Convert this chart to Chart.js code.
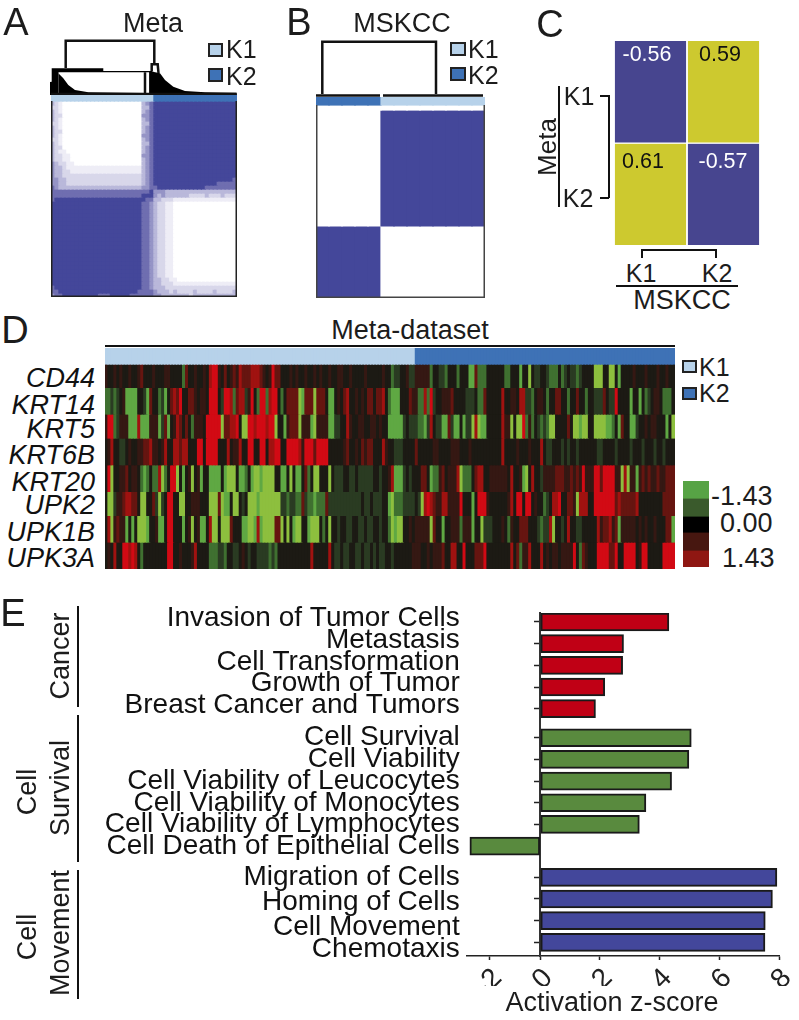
<!DOCTYPE html>
<html>
<head>
<meta charset="utf-8">
<title>Consensus clusters</title>
<script src="https://cdn.jsdelivr.net/npm/chart.js@4/dist/chart.umd.min.js"></script>
<style>
  body { margin: 0; background: #fff; }
  #page { position: relative; width: 799px; height: 1020px; overflow: hidden; font-family: "Liberation Sans", Arial, sans-serif; color: #1c1c1c; }
  #page canvas { position: absolute; }
  .t { position: absolute; white-space: nowrap; line-height: 1; }
  .l { position: absolute; background: #111; }
  .s { position: absolute; box-sizing: border-box; border: 2px solid #222; }
</style>
</head>
<body>
<div id="page"></div>
<script>
// Panel A: consensus matrix, one digit per cell (0 = never together, 6 = always)
const metaMatrix = [
  "32100000000000000000000345666666666666666666666",
  "22100000000000000000000335666666666666666666666",
  "32100000000000000000000345666666666666666666666",
  "32200000000000000000000445666666666666666666666",
  "32100000000000000000000345666666666666666666666",
  "22100000000000000000000335666666666666666666666",
  "32100000000000000000000345666666666666666666666",
  "32200000000000000000000345666666666666666666666",
  "32100000000000000000000445666666666666666666666",
  "22100000000000000000000345666666666666666666666",
  "32100000000000000000000335666666666666666666666",
  "32200000000000000000000345666666666666666666666",
  "32110000000000000000000345666666666666666666666",
  "32211000000000000000000445666666666666666666666",
  "32211000000000000000000345666666666666666666666",
  "43221100000000000000000345666666666666666666666",
  "43321111111111111111111345666666666666666666666",
  "43322111111111111111111345666666666666666666666",
  "43322222222222222222222345666666666666666666666",
  "44332222222222222222222345666666666666666666665",
  "44332222222222222222222345666666666666666655555",
  "54333333333333333333333445566666666666655555555",
  "55555555555555555555555556444333333333333333333",
  "55555555555555555555555666434333333222232223222",
  "56666666666666666666666655332221111111111111111",
  "66666666666666666666666554322110000000000000000",
  "66666666666666666666666554322110000000000000000",
  "66666666666666666666666554322110000000000000000",
  "66666666666666666666666554322110000000000000000",
  "66666666666666666666666554322110000000000000000",
  "66666666666666666666666554322110000000000000000",
  "66666666666666666666666554322110000000000000000",
  "66666666666666666666666554322110000000000000000",
  "66666666666666666666666554322110000000000000000",
  "66666666666666666666666554322110000000000000000",
  "66666666666666666666666554322110000000000000000",
  "66666666666666666666666554322110000000000000000",
  "66666666666666666666666554322110000000000000000",
  "66666666666666666666666554322110000000000000000",
  "66666666666666666666666554322110000000000000000",
  "66666666666666666666666554322110000000000000000",
  "66666666666666666666666554322110000000000000000",
  "66666666666666666666666554322110000000000000000",
  "66666666666666666666666554322110000000000000000",
  "66666666666666666666666554332211000000000000000",
  "66666666666666666666666554332221111111111111111",
  "56666666666666666666666554333222222222222222222",
  "55666666666666666666665555433323222232222322223",
  "45566666666655566666555555443333333233333333333"
];

// Panel A dendrogram as [leaf position, merge height]
const metaMass = [[5,0],[5,13],[6.7,13.3],[6.7,26.7],[58.3,26.7],[58.3,24],[106.7,24],[109,23],[115,21.7],[120,15],[128.3,8.3],[140,4],[160,2.7],[191.7,2.3]];
const metaHollow = [[13.3,22.7],[104.3,22.7]];
const metaLower = [[13.3,21.7],[18.3,16.7],[23.3,10],[30,5],[43.3,2.7],[100,2]];
const metaLinks = [[20.7,27],[20.7,54.3],[109.3,54.3],[109.3,30.7],null,[106.7,24],[106.7,30.7],[112.7,30.7],[113.5,22],null,[100,22.7],[100,1],null,[6,1],[191.7,1]];

// Panel B
const mskccMatrix = ["0000066666666", "6666600000000"];
const mskccLinks = [[12.3,3],[12.3,54.3],[126,54.3],[126,3],null,[6,1.5],[70,1.5],null,[73,1.5],[173,1.5]];

// Panel C
const corrValues = [[-0.56, 0.59], [0.61, -0.57]];
const corrLabels = ["K1", "K2"];

// Panel D: a = most negative (green) ... e = 0 ... i = most positive (red)
const geneNames = ["CD44", "KRT14", "KRT5", "KRT6B", "KRT20", "UPK2", "UPK1B", "UPK3A"];
const geneLevels = [
  "feefefeefeef" + "geeefeeeffee" + "eecgeefeefeh" + "iifegefgfhgg" + "ghhhgfefigge" + "eefefeefeefe" + "feefeeffeefe" + "eeefeeeeefee" + "cddeefddffff" + "fceeddceeece" + "eebbgccceeee" + "eecceeebeeae" + "ddeedcccecde" + "ddcdeeeeaaae" + "eaaebeeeefee" + "efeeefeefee",
  "ccdcdefbbbbe" + "edbgeecdbegh" + "gieeggfeffei" + "iiediihcghhd" + "fieciichiiec" + "eggggabgggag" + "ggebbefeghee" + "fefeggegghec" + "bbbeeegffcch" + "cideefffgeee" + "edddeccgeeee" + "eheeffehhddc" + "effeceeggeec" + "eegeeceedddg" + "eddieeeebeeb" + "ecdeffeccce",
  "fiicdfffbbbh" + "bbbfffbdgbef" + "hgegecfffeii" + "iiiagghhieaa" + "iihiiihiiaee" + "bfgggafffbaf" + "fffbbddeehfe" + "effeeffefeeb" + "bbbbdedddccb" + "dheddbbgdbbe" + "bddahabbeeee" + "ehffaeaaicfc" + "edcdcaaeeeeg" + "eaabaaeeaaaa" + "bbcebgeebbde" + "efeffeeebea",
  "efheeddefeef" + "fgghffefheeh" + "hghheeeiieii" + "iieeeheffhee" + "iieeiiehhiie" + "eiiiihfiiigi" + "iiieeeeefgee" + "fegfggeeehfe" + "edddeeeegeee" + "eeffeeeefffe" + "eefeeeeeeeee" + "eheeeefeeefe" + "eeheddeeeded" + "eedeeeeeedde" + "eeedeeeedeee" + "deeedeedeee",
  "eiaeeffgeffe" + "cbcecchaceii" + "aebefaefbeeb" + "bbbebaaaebbc" + "ebaabaaaaeeb" + "beaebbegceaa" + "eeeaedddeedd" + "edddddeedeef" + "hbbbdedeeegg" + "ebccfgefffha" + "ccceghheefff" + "fffeheefbaeh" + "eedffffgggff" + "gfgfifffiigi" + "iiiffahaffbf" + "gfgffgffggg",
  "eaadffghhgge" + "aaeegdadeiie" + "eaaeefffeeea" + "aagabbeaaede" + "aaabaaaaaaad" + "dcddccgdccbc" + "ccgddddddddd" + "ddeddedddeeb" + "acccddddedah" + "ihgffhhffffi" + "eeebeiiifeee" + "eeefheiieiie" + "feecdehhieeg" + "gfahhheeiiii" + "iiighggggghe" + "eeeeeeegggg",
  "ehafgffbebea" + "aabeefbbeiie" + "eebefaefbbeh" + "aaeaaageeebb" + "aabhbaaaagga" + "eaebaaeebaaa" + "eceaeedeedde" + "eddeddeedeec" + "abaaeefeffff" + "fageebeefffc" + "fffbeeadddee" + "efecfeegggee" + "edcddhaeedeh" + "eeddeeeeehfg" + "ghfgbfffffef" + "efeefeeeggb",
  "efeheeiihihe" + "ceeeeeeeeiie" + "efeeefheeeec" + "ccddceeddefe" + "deeddddcdcee" + "eeeeeeeeehee" + "eeeheddeddee" + "ddeddededdee" + "deeeeeefffee" + "fefffgeehhee" + "ieeegggieeee" + "eeeehegcffhe" + "eehefeffefff" + "fiecgfeeeiii" + "iggieeiiiief" + "iieeeeeiiii"
];
const geneRowHeights = [23.4, 26.6, 24, 26.7, 26.7, 24, 26.6, 27];
const clusterCounts = [104, 87];
const scaleLabels = ["-1.43", "0.00", "1.43"];

// Panel E
const barLabels = ["Invasion of Tumor Cells", "Metastasis", "Cell Transformation", "Growth of Tumor", "Breast Cancer and Tumors",
  "Cell Survival", "Cell Viability", "Cell Viability of Leucocytes", "Cell Viability of Monocytes", "Cell Viability of Lymphocytes", "Cell Death of Epithelial Cells",
  "Migration of Cells", "Homing of Cells", "Cell Movement", "Chemotaxis"];
const barValues = [4.31, 2.79, 2.76, 2.16, 1.85, 5.06, 4.98, 4.40, 3.54, 3.32, -2.36, 7.93, 7.78, 7.54, 7.53];
const barGroups = [0, 0, 0, 0, 0, 1, 1, 1, 1, 1, 1, 2, 2, 2, 2];
const xTickValues = [-1.7, 0, 2, 4, 6, 8];
const xTickLabels = ["-2", "0", "2", "4", "6", "8"];

const colors = {
  0: "#ffffff", 1: "#eeedf6", 2: "#d8d7ea", 3: "#b9b8da", 4: "#9594c6", 5: "#6f6eb0", 6: "#44479a",
  K: "#b7d2ea", L: "#3e72b6",
  a: "#8dbf3e", b: "#5fa843", c: "#3f7030", d: "#2a3b22", e: "#1c1a14", f: "#351813", g: "#661510", h: "#a01210", i: "#d20a14",
  p: "#57a345", q: "#3a5a2c", r: "#000000", s: "#471710", t: "#8f1712"
};
const groupColors = ["#c00015", "#598a3e", "#43479b"];
const groupShift = [0, 0.34, 0.78];
// label text sits a little off its bar in the figure, pixels
const labelNudge = [-4, -3.7, -3.3, -4, -3.7, -0.7, -0.3, 0, 0.3, -0.3, 0, -0.3, 3, 6.3, 6.7];

Chart.defaults.font.family = '"Liberation Sans", Arial, sans-serif';
Chart.defaults.animation = false;
Chart.defaults.responsive = false;
Chart.defaults.plugins.legend.display = false;
Chart.defaults.plugins.tooltip.enabled = false;

const page = document.getElementById("page");

function addCanvas(x, y, w, h) {
  const c = document.createElement("canvas");
  c.width = w; c.height = h;
  c.style.left = x + "px"; c.style.top = y + "px";
  c.style.width = w + "px"; c.style.height = h + "px";
  page.appendChild(c);
  return c;
}

function text(str, x, y, size, opts) {
  opts = opts || {};
  const d = document.createElement("div");
  d.className = "t";
  d.textContent = str;
  d.style.fontSize = size + "px";
  d.style.left = x + "px"; d.style.top = y + "px";
  if (opts.italic) d.style.fontStyle = "italic";
  if (opts.color) d.style.color = opts.color;
  let tr = opts.right ? "translate(-100%,-50%)" : opts.left ? "translate(0,-50%)" : "translate(-50%,-50%)";
  if (opts.rotate) tr += " rotate(-90deg)";
  d.style.transform = tr;
  page.appendChild(d);
}

function line(x, y, w, h) {
  const d = document.createElement("div");
  d.className = "l";
  d.style.cssText = `left:${x}px;top:${y}px;width:${w}px;height:${h}px`;
  page.appendChild(d);
}

function swatch(x, y, w, h, color) {
  const d = document.createElement("div");
  d.className = "s";
  d.style.cssText = `left:${x}px;top:${y}px;width:${w}px;height:${h}px;background:${color}`;
  page.appendChild(d);
}

// Heatmap from stacked bars: one dataset per row, one category per column
function heatChart(box, rows, heights, frameTop, frameColor) {
  const total = heights.reduce((a, b) => a + b, 0);
  const plugins = [];
  if (frameTop !== undefined) {
    plugins.push({
      id: "frame",
      afterDraw(chart) {
        const a = chart.chartArea, g = chart.ctx;
        g.save();
        g.strokeStyle = frameColor;
        g.lineWidth = 1.5;
        g.beginPath();
        g.moveTo(a.left + 0.75, a.top + frameTop);
        g.lineTo(a.left + 0.75, a.bottom - 0.75);
        g.lineTo(a.right - 0.75, a.bottom - 0.75);
        g.lineTo(a.right - 0.75, a.top + frameTop);
        g.stroke();
        g.restore();
      }
    });
  }
  return new Chart(addCanvas(box[0], box[1], box[2], box[3]), {
    type: "bar",
    data: {
      labels: rows[0].split("").map((_, i) => i),
      datasets: rows.map((r, i) => ({
        data: r.split("").map(() => heights[i]),
        backgroundColor: r.split("").map(ch => colors[ch]),
        barPercentage: 1,
        categoryPercentage: 1,
        inflateAmount: 0.6
      }))
    },
    options: {
      layout: { padding: 0 },
      scales: {
        x: { display: false, stacked: true },
        y: { display: false, stacked: true, reverse: true, min: 0, max: total }
      }
    },
    plugins: plugins
  });
}

// Dendrogram: filled shapes first, the connecting lines on top
function dendrogram(box, xMax, yMax, fills, links) {
  const toPt = p => p ? { x: p[0], y: p[1] } : { x: NaN, y: NaN };
  const datasets = fills.map((f, i) => ({
    data: f.points.map(toPt), showLine: true, pointRadius: 0, borderWidth: 0,
    backgroundColor: f.color, fill: "origin", order: 100 - i
  }));
  datasets.push({
    data: links.map(toPt), showLine: true, pointRadius: 0, borderWidth: 2.5,
    borderColor: "#111", fill: false, spanGaps: false, order: 0
  });
  return new Chart(addCanvas(box[0], box[1], box[2], box[3]), {
    type: "scatter",
    data: { datasets: datasets },
    options: {
      layout: { padding: 0 },
      scales: {
        x: { type: "linear", display: false, min: 0, max: xMax },
        y: { type: "linear", display: false, min: 0, max: yMax }
      }
    }
  });
}

// --- A ---
heatChart([51, 94, 186, 203], ["K".repeat(26) + "L".repeat(21)].concat(metaMatrix), [7].concat(metaMatrix.map(() => 4)), 7, "#222");
dendrogram([45, 30, 200, 65], 200, 65, [
  { points: metaMass, color: "#000" },
  { points: metaHollow, color: "#fff" },
  { points: metaLower, color: "#000" }
], metaLinks);
text("A", 16, 22, 38);
text("Meta", 153, 23, 27);
swatch(208, 43, 15, 14, colors.K); text("K1", 226, 49, 25, { left: true });
swatch(208, 68, 15, 14, colors.L); text("K2", 226, 76, 25, { left: true });

// --- B ---
heatChart([316, 97, 169, 201], ["LLLLLKKKKKKKK", "0000000000000"].concat(mskccMatrix), [8, 5, 116, 72], 8, "#444");
dendrogram([310, 35, 180, 62], 180, 61, [], mskccLinks);
text("B", 299, 22, 38);
text("MSKCC", 402, 23, 27);
swatch(450, 42, 16, 14, colors.K); text("K1", 468, 49, 25, { left: true });
swatch(450, 67, 16, 14, colors.L); text("K2", 468, 75, 25, { left: true });

// --- C ---
new Chart(addCanvas(614, 41, 146, 205), {
  type: "bar",
  data: {
    labels: corrLabels,
    datasets: corrValues.map(row => ({
      data: row.map(() => 1),
      backgroundColor: row.map(v => v < 0 ? "#47458f" : "#cdc92f"),
      borderColor: "#fff", borderWidth: 1.25, barPercentage: 1, categoryPercentage: 1
    }))
  },
  options: {
    layout: { padding: 0 },
    scales: {
      x: { display: false, stacked: true },
      y: { display: false, stacked: true, reverse: true, min: 0, max: 2 }
    }
  }
});
text("C", 550, 24, 38);
text(corrValues[0][0].toFixed(2), 647, 55, 21.5, { color: "#fff" });
text(corrValues[0][1].toFixed(2), 720, 55, 21.5, { color: "#111" });
text(corrValues[1][0].toFixed(2), 643, 162, 21.5, { color: "#111" });
text(corrValues[1][1].toFixed(2), 723, 162, 21.5, { color: "#fff" });
text("Meta", 547, 147, 26, { rotate: true });
line(558, 86, 2, 121);
text("K1", 579, 96, 25); text("K2", 578, 198, 25);
line(608, 95, 2, 103); line(600, 95, 9, 2); line(600, 197, 9, 2);
line(642, 249, 75, 2); line(641, 249, 2, 9); line(715, 249, 2, 9);
text("K1", 641, 273, 25); text("K2", 717, 273, 25);
line(616, 285, 122, 2);
text("MSKCC", 682, 300, 27);

// --- D ---
heatChart([105, 348, 570, 221],
  ["K".repeat(clusterCounts[0]) + "L".repeat(clusterCounts[1])].concat(geneLevels),
  [16].concat(geneRowHeights));
text("D", 15, 330, 38);
text("Meta-dataset", 410, 330, 27);
line(105, 345, 570, 2);
const geneY = [378, 405, 429, 455, 482, 505, 532, 558];
geneNames.forEach((g, i) => text(g, 95, geneY[i], 27, { italic: true, right: true, color: "#111" }));
swatch(682, 360, 15, 13, colors.K); text("K1", 699, 367, 25, { left: true });
swatch(682, 387, 15, 13, colors.L); text("K2", 699, 393, 25, { left: true });
heatChart([683, 481, 26, 86], ["p", "q", "r", "s", "t"], [17, 18, 16, 18, 17]);
text(scaleLabels[0], 711, 496, 27, { left: true });
text(scaleLabels[1], 720, 523, 27, { left: true });
text(scaleLabels[2], 722, 558, 27, { left: true });

// --- E ---
const barPos = barValues.map((_, i) => i + groupShift[barGroups[i]]);
const yMin = -0.415, yMax = 15.41;
new Chart(addCanvas(0, 600, 799, 420), {
  type: "bar",
  data: {
    datasets: [{
      data: barValues.map((v, i) => ({ x: v, y: barPos[i] })),
      backgroundColor: barGroups.map(g => groupColors[g]),
      borderColor: "#1a1a1a",
      borderWidth: 2,
      borderSkipped: false,
      barThickness: 18
    }]
  },
  options: {
    indexAxis: "y",
    layout: { padding: { top: 13, right: 20, bottom: 34, left: 0 } },
    scales: {
      x: {
        type: "linear", min: -2.466, max: 8,
        afterBuildTicks(s) { s.ticks = xTickValues.map(v => ({ value: v })); },
        afterFit(s) { s.height = 30; s.paddingLeft = 0; s.paddingRight = 0; },
        ticks: {
          autoSkip: false, minRotation: 45, maxRotation: 45, padding: 2, labelOffset: 8,
          font: { size: 28 }, color: "#222",
          callback: (v, i) => xTickLabels[i]
        },
        grid: { drawOnChartArea: false, tickLength: 4, tickColor: "#222", tickWidth: 1.5 },
        border: { color: "#222", width: 1.5 }
      },
      y: {
        type: "linear", reverse: true, offset: false, min: yMin, max: yMax, position: { x: 0 },
        afterBuildTicks(s) { s.ticks = barPos.map(v => ({ value: v })); },
        ticks: { display: false, autoSkip: false },
        grid: { offset: false, drawOnChartArea: false, tickLength: 5, tickColor: "#222", tickWidth: 1.5 },
        border: { color: "#333", width: 2 }
      },
      labelAxis: {
        type: "linear", axis: "y", reverse: true, offset: false, min: yMin, max: yMax, position: "left",
        afterBuildTicks(s) { s.ticks = barPos.map((v, i) => ({ value: v + labelNudge[i] / 21.67 })); },
        afterFit(s) { s.width = 466.7; s.paddingTop = 0; s.paddingBottom = 0; },
        ticks: {
          autoSkip: false, padding: 7, font: { size: 28 }, color: "#111",
          callback: (v, i) => barLabels[i]
        },
        grid: { offset: false, display: false, drawTicks: false },
        border: { display: false }
      }
    }
  }
});
text("E", 13, 613, 38);
text("Cancer", 60, 656, 27, { rotate: true });
line(77, 606, 2, 101);
text("Cell", 27, 792, 27, { rotate: true });
text("Survival", 60, 788, 27, { rotate: true });
line(77, 715, 2, 147);
text("Cell", 27, 937, 27, { rotate: true });
text("Movement", 60, 933, 27, { rotate: true });
line(77, 870, 2, 129);
text("Activation z-score", 612, 1002, 27);
</script>
</body>
</html>
